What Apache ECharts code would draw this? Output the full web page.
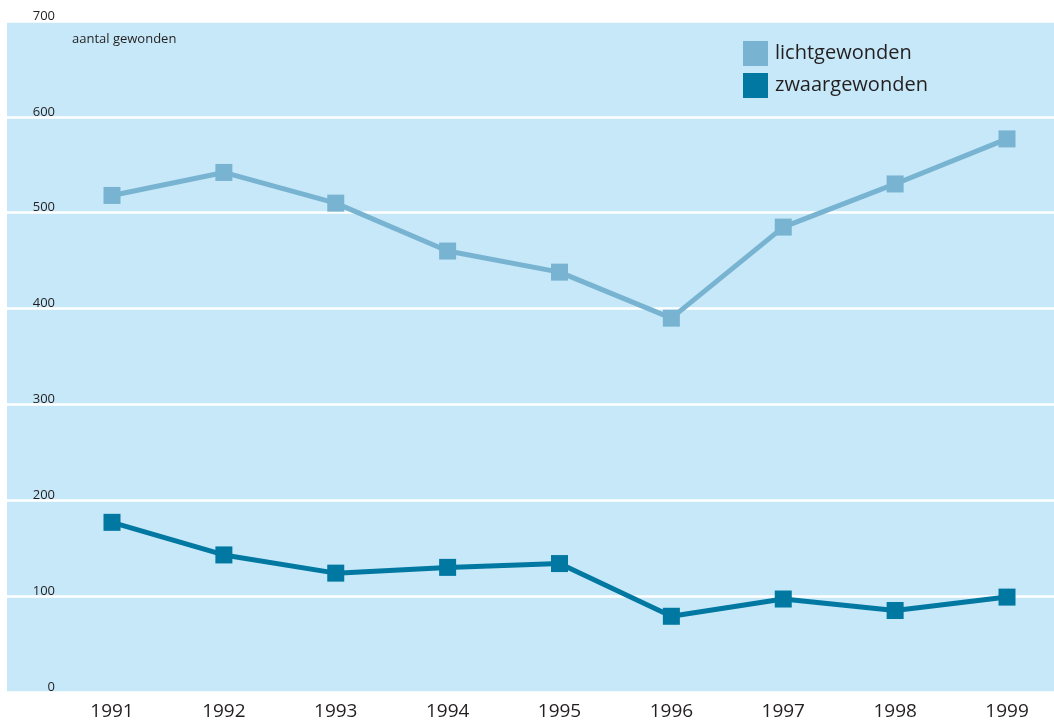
<!DOCTYPE html>
<html>
<head>
<meta charset="utf-8">
<script src="https://cdn.jsdelivr.net/npm/echarts@6/dist/echarts.min.js"></script>
<style>
	html, body { margin: 0; padding: 0; background: #fff; }
	#chart { width: 1054px; height: 721px; }
</style>
</head>
<body>
<div id="chart"></div>
<script>
	var years = [1991, 1992, 1993, 1994, 1995, 1996, 1997, 1998, 1999];
	var licht = [518, 542, 510, 460, 438, 390, 485, 530, 577];
	var zwaar = [177, 143, 124, 130, 134, 79, 97, 85, 99];
	var seriesNames = ['lichtgewonden', 'zwaargewonden'];
	var colors = ['#78b4d1', '#0078a2'];

	function pairs(vals) {
		var out = [];
		years.forEach(function (y, i) {
			out.push([y, vals[i]]);
		});
		return out;
	}

	var font = '"Open Sans", "Noto Sans", sans-serif';
	var chart = echarts.init(document.getElementById('chart'));

	var option = {
		animation: false,
		textStyle: { fontFamily: font },
		grid: {
			left: 7,
			right: 0,
			top: 21,
			bottom: 28,
			show: true,
			backgroundColor: '#c6e8f8',
			borderWidth: 0
		},
		graphic: [{
			type: 'text',
			left: 72,
			top: 33,
			style: { text: 'aantal gewonden', fontSize: 13, fill: '#231f20', fontFamily: font }
		}],
		legend: {
			orient: 'vertical',
			left: 743,
			top: 41,
			padding: 0,
			itemWidth: 25,
			itemHeight: 25,
			itemGap: 7,
			icon: 'rect',
			data: seriesNames,
			textStyle: { fontSize: 20, color: '#231f20', fontFamily: font, padding: [0, 0, 0, 2] }
		},
		xAxis: {
			type: 'value',
			min: 1990.0615,
			max: 1999.42,
			axisLine: { show: false },
			axisTick: { show: false },
			splitLine: { show: false },
			axisLabel: {
				customValues: years,
				fontSize: 19,
				color: '#231f20',
				margin: 10,
				formatter: function (v) { return String(v); }
			}
		},
		yAxis: {
			type: 'value',
			min: 0,
			max: 700,
			interval: 100,
			axisLine: { show: false },
			axisTick: { show: false },
			splitLine: { lineStyle: { color: '#ffffff', width: 2.5 } },
			axisLabel: {
				inside: true,
				align: 'right',
				verticalAlign: 'bottom',
				lineHeight: 10,
				margin: 48,
				fontSize: 13,
				color: '#231f20'
			}
		},
		series: [
			{
				name: seriesNames[0],
				type: 'line',
				data: pairs(licht),
				symbol: 'rect',
				symbolSize: 17,
				color: colors[0],
				lineStyle: { width: 5, color: colors[0] },
				itemStyle: { color: colors[0] }
			},
			{
				name: seriesNames[1],
				type: 'line',
				data: pairs(zwaar),
				symbol: 'rect',
				symbolSize: 17,
				color: colors[1],
				lineStyle: { width: 5, color: colors[1] },
				itemStyle: { color: colors[1] }
			}
		]
	};

	chart.setOption(option);
</script>
</body>
</html>
